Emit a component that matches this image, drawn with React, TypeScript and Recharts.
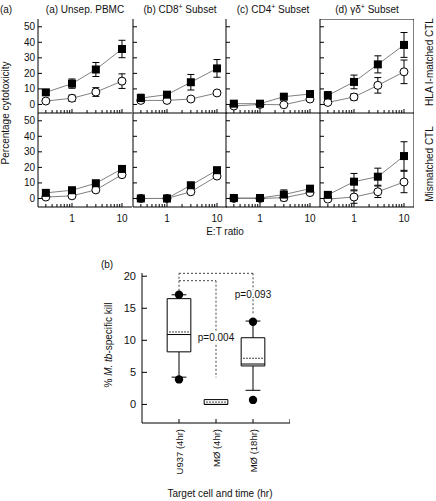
import React from 'react';
import {
  LineChart,
  Line,
  XAxis,
  YAxis,
  ErrorBar,
  ReferenceLine,
  ComposedChart,
  Scatter,
  ReferenceArea,
  ReferenceDot,
} from 'recharts';

// ---- panel (a): cytotoxicity vs E:T ratio ----
const ratios = [0.3, 1, 3, 10];
const ratioTicks = [0.3, 0.4, 0.5, 0.6, 0.7, 0.8, 0.9, 1, 2, 3, 4, 5, 6, 7, 8, 9, 10];
const ratioLabels = [1, 10];
const cytoTicks = [0, 10, 20, 30, 40, 50];

// order of subsets: Unsep. PBMC, CD8+, CD4+, gamma-delta+
const matchedSquare = [
  [7.8, 13.4, 22.5, 35.7],
  [4.1, 6.3, 14.3, 23.2],
  [0.5, 0.5, 5, 6.7],
  [5.8, 14.5, 25.8, 38.3],
];
const matchedSquareErr = [
  [1.5, 3, 4.5, 5.6],
  [2.5, 1.5, 5, 5.7],
  [1, 1, 1, 1],
  [2.5, 4.4, 5.5, 8],
];
const matchedCircle = [
  [2.2, 4, 8, 15],
  [2.6, 2.6, 3.5, 7.4],
  [-1, 0, -0.2, 3.5],
  [1.3, 4.8, 12.3, 21],
];
const matchedCircleErr = [
  [1, 2, 2.8, 4.7],
  [1, 1, 1, 1],
  [0.5, 0.5, 0.5, 1],
  [1, 2, 5, 7.6],
];
const mismatchedSquare = [
  [3.6, 5.3, 9.8, 19],
  [0, 0, 8.5, 18.2],
  [0.3, 0.3, 2.5, 6.3],
  [2.3, 10.8, 14, 27.3],
];
const mismatchedSquareErr = [
  [1, 1, 1.5, 1.5],
  [0.5, 0.5, 1, 1],
  [0.5, 0.5, 3, 1],
  [2, 5.3, 5.5, 9.2],
];
const mismatchedCircle = [
  [0.9, 1.7, 5.5, 15.3],
  [0, 0, 4.3, 14.4],
  [0, 0, 0.5, 3.8],
  [-0.4, 0.9, 4.3, 10.6],
];
const mismatchedCircleErr = [
  [0.5, 0.5, 1, 1.5],
  [0.5, 0.5, 1, 1],
  [0.5, 0.5, 2, 1],
  [0.5, 4, 3.7, 6.9],
];

// ---- panel (b): box plots ----
const boxCategories = ['U937 (4hr)', 'MØ (4hr)', 'MØ (18hr)'];
const boxQ1 = [8.2, 0, 6.0];
const boxQ3 = [16.5, 0.75, 10.4];
const boxMedian = [10.9, 0, 6.3];
const boxMean = [11.3, 0.36, 7.2];
const whiskerLow: (number | null)[] = [4.25, null, 2.2];
const whiskerHigh: (number | null)[] = [17.1, null, 13.0];
const dotLow: (number | null)[] = [3.9, null, 0.7];
const dotHigh: (number | null)[] = [17.1, null, 12.9];
const killTicks = [0, 5, 10, 15, 20];
const bracketSegments = [
  [[1, 17.1], [1, 20.45]],
  [[1, 20.45], [3, 20.45]],
  [[3, 20.45], [3, 17.9]],
  [[3, 16.4], [3, 14.0]],
  [[1, 19.3], [2, 19.3]],
  [[2, 19.3], [2, 11.4]],
  [[2, 9.3], [2, 4.2]],
];
const pValues = [
  { x: 2, y: 10.4, text: 'p=0.004' },
  { x: 3, y: 17.2, text: 'p=0.093' },
];

const FONT = "'Liberation Sans', Arial, sans-serif";
const X_DOMAIN = [0.209, 15.85];
const Y_DOMAIN = [-5.5, 55];
const PW = 94;
const PH = 94;
const AXIS_W = 36;
const panelLeft = [38, 133, 226, 320];

const XTick = (props: any) => {
  const { x, y, payload, showLabel } = props;
  const major = ratioLabels.includes(payload.value);
  return (
    <g>
      <line x1={x} x2={x} y1={y} y2={y - (major ? 4 : 3)} stroke="#000" />
      {showLabel && major && (
        <text x={x} y={y + 15} textAnchor="middle" fontSize={10} fontFamily={FONT} fill="#111">
          {payload.value}
        </text>
      )}
    </g>
  );
};

const YTick = (props: any) => {
  const { x, y, payload, showLabel } = props;
  return (
    <g>
      <line x1={x} x2={x + 4} y1={y} y2={y} stroke="#000" />
      {showLabel && (
        <text x={x - 3} y={y} dy="0.35em" textAnchor="end" fontSize={10} fontFamily={FONT} fill="#111">
          {payload.value}
        </text>
      )}
    </g>
  );
};

const squareDot = (p: any) => (
  <rect key={`s${p.index}`} x={p.cx - 4} y={p.cy - 4} width={8} height={8} fill="#000" />
);
const circleDot = (p: any) => (
  <circle key={`c${p.index}`} cx={p.cx} cy={p.cy} r={4} fill="#fff" stroke="#000" strokeWidth={1} />
);

function Panel({ idx, bottom }: { idx: number; bottom: boolean }) {
  const sq = bottom ? mismatchedSquare[idx] : matchedSquare[idx];
  const sqErr = bottom ? mismatchedSquareErr[idx] : matchedSquareErr[idx];
  const ci = bottom ? mismatchedCircle[idx] : matchedCircle[idx];
  const ciErr = bottom ? mismatchedCircleErr[idx] : matchedCircleErr[idx];
  const rows = ratios.map((x, i) => ({ x, sq: sq[i], sqErr: sqErr[i], ci: ci[i], ciErr: ciErr[i] }));
  const xH = bottom ? 22 : 2;
  const boxed = idx === 3;
  return (
    <div style={{ position: 'absolute', left: panelLeft[idx] - AXIS_W, top: bottom ? 113 : 19 }}>
      <LineChart width={AXIS_W + PW} height={PH + xH} data={rows} margin={{ top: 0, right: 0, bottom: 0, left: 0 }}>
        <XAxis
          dataKey="x"
          type="number"
          scale="log"
          domain={X_DOMAIN}
          allowDataOverflow
          ticks={ratioTicks}
          interval={0}
          height={xH}
          tickSize={0}
          tickMargin={0}
          tick={<XTick showLabel={bottom} />}
          axisLine={{ stroke: '#000' }}
        />
        <YAxis
          type="number"
          domain={Y_DOMAIN}
          allowDataOverflow
          ticks={cytoTicks}
          interval={0}
          width={AXIS_W}
          tickSize={0}
          tickMargin={0}
          tick={<YTick showLabel={idx === 0} />}
          axisLine={{ stroke: '#000' }}
        />
        {boxed && <ReferenceLine x={X_DOMAIN[1]} stroke="#000" />}
        {boxed && !bottom && <ReferenceLine y={Y_DOMAIN[1]} stroke="#000" />}
        <Line dataKey="ci" stroke="#808080" strokeWidth={1} dot={circleDot} isAnimationActive={false}>
          <ErrorBar dataKey="ciErr" direction="y" width={3.5} stroke="#000" strokeWidth={1} />
        </Line>
        <Line dataKey="sq" stroke="#808080" strokeWidth={1} dot={squareDot} isAnimationActive={false}>
          <ErrorBar dataKey="sqErr" direction="y" width={3.5} stroke="#000" strokeWidth={1} />
        </Line>
      </LineChart>
    </div>
  );
}

const BoxXTick = (props: any) => {
  const { x, y, payload } = props;
  const label = boxCategories[payload.value - 1];
  return (
    <g>
      <line x1={x} x2={x} y1={y} y2={y - 4} stroke="#000" />
      {label && (
        <text
          transform={`translate(${x},${y + 6}) rotate(-90)`}
          textAnchor="end"
          dominantBaseline="central"
          fontSize={9.5}
          fontFamily={FONT}
          fill="#111"
        >
          {label}
        </text>
      )}
    </g>
  );
};

const BoxYTick = (props: any) => {
  const { x, y, payload } = props;
  return (
    <g>
      <line x1={x} x2={x + 5} y1={y} y2={y} stroke="#000" />
      <text x={x - 6} y={y} dy="0.35em" textAnchor="end" fontSize={11} fontFamily={FONT} fill="#111">
        {payload.value}
      </text>
    </g>
  );
};

function BoxPlot() {
  const half = 0.32;
  const cap = 0.2;
  const dots = boxCategories.flatMap((_, i) =>
    [dotLow[i], dotHigh[i]].filter((v) => v !== null).map((v) => ({ x: i + 1, y: v }))
  );
  const dotted = { stroke: '#444', strokeDasharray: '2 2', strokeWidth: 1 };
  return (
    <div style={{ position: 'absolute', left: 102, top: 263 }}>
      <ComposedChart width={40 + 148} height={10 + 150 + 75} margin={{ top: 10, right: 0, bottom: 0, left: 0 }}>
        <XAxis
          dataKey="x"
          type="number"
          domain={[0, 4]}
          ticks={[1, 2, 3, 4]}
          interval={0}
          height={75}
          tickSize={0}
          tickMargin={0}
          tick={<BoxXTick />}
          axisLine={{ stroke: '#000' }}
        />
        <YAxis
          dataKey="y"
          type="number"
          domain={[-2.9, 20.5]}
          allowDataOverflow
          ticks={killTicks}
          interval={0}
          width={40}
          tickSize={0}
          tickMargin={0}
          tick={<BoxYTick />}
          axisLine={{ stroke: '#000' }}
        />
        {bracketSegments.map((s, i) => (
          <ReferenceLine
            key={`br${i}`}
            segment={[{ x: s[0][0], y: s[0][1] }, { x: s[1][0], y: s[1][1] }]}
            {...dotted}
          />
        ))}
        {boxCategories.map((_, i) => {
          const c = i + 1;
          const lo = whiskerLow[i];
          const hi = whiskerHigh[i];
          return (
            <React.Fragment key={`box${i}`}>
              {hi !== null && (
                <ReferenceLine segment={[{ x: c, y: boxQ3[i] }, { x: c, y: hi }]} stroke="#000" />
              )}
              {hi !== null && (
                <ReferenceLine segment={[{ x: c - cap, y: hi }, { x: c + cap, y: hi }]} stroke="#000" />
              )}
              {lo !== null && (
                <ReferenceLine segment={[{ x: c, y: boxQ1[i] }, { x: c, y: lo }]} stroke="#000" />
              )}
              {lo !== null && (
                <ReferenceLine segment={[{ x: c - cap, y: lo }, { x: c + cap, y: lo }]} stroke="#000" />
              )}
              <ReferenceArea
                x1={c - half}
                x2={c + half}
                y1={boxQ1[i]}
                y2={boxQ3[i]}
                fill="#fff"
                fillOpacity={1}
                stroke="#000"
                strokeWidth={1}
              />
              <ReferenceLine segment={[{ x: c - half, y: boxMedian[i] }, { x: c + half, y: boxMedian[i] }]} stroke="#000" />
              <ReferenceLine
                segment={[{ x: c - half + 0.05, y: boxMean[i] }, { x: c + half - 0.05, y: boxMean[i] }]}
                stroke="#444"
                strokeDasharray="2 1"
              />
            </React.Fragment>
          );
        })}
        <Scatter data={dots} dataKey="y" fill="#000" shape={(p: any) => <circle cx={p.cx} cy={p.cy} r={4.2} fill="#000" />} isAnimationActive={false} />
        {pValues.map((p, i) => (
          <ReferenceDot
            key={`p${i}`}
            x={p.x}
            y={p.y}
            r={0}
            stroke="none"
            label={{ value: p.text, position: 'center', fontSize: 10, fontFamily: FONT, fill: '#111' }}
          />
        ))}
      </ComposedChart>
    </div>
  );
}

const txt: React.CSSProperties = { position: 'absolute', fontFamily: FONT, fontSize: 10, color: '#111', whiteSpace: 'nowrap', lineHeight: 1 };
const sup: React.CSSProperties = { fontSize: 7, verticalAlign: 'super', lineHeight: 0 };

function Centered({ x, y, children, rotate, style }: any) {
  return (
    <div
      style={{
        ...txt,
        left: x,
        top: y,
        transform: `translate(-50%, -50%)${rotate ? ` rotate(${rotate}deg)` : ''}`,
        ...style,
      }}
    >
      {children}
    </div>
  );
}

export default function App() {
  const titles = [
    <>(a) Unsep. PBMC</>,
    <>(b) CD8<span style={sup}>+</span> Subset</>,
    <>(c) CD4<span style={sup}>+</span> Subset</>,
    <>(d) γδ<span style={sup}>+</span> Subset</>,
  ];
  return (
    <div style={{ position: 'absolute', left: 0, top: 0, width: 436, height: 501, background: '#fff', overflow: 'hidden' }}>
      <Centered x={6} y={10}>(a)</Centered>
      {titles.map((t, i) => (
        <Centered key={`t${i}`} x={panelLeft[i] + PW / 2} y={10}>
          {t}
        </Centered>
      ))}
      {[0, 1, 2, 3].map((i) => (
        <Panel key={`m${i}`} idx={i} bottom={false} />
      ))}
      {[0, 1, 2, 3].map((i) => (
        <Panel key={`mm${i}`} idx={i} bottom={true} />
      ))}
      <Centered x={6} y={113} rotate={-90}>Percentage cytotoxicity</Centered>
      <Centered x={430} y={62} rotate={-90}>HLA I-matched CTL</Centered>
      <Centered x={430} y={164} rotate={-90}>Mismatched CTL</Centered>
      <Centered x={225} y={232}>E:T ratio</Centered>

      <Centered x={107} y={265}>(b)</Centered>
      <BoxPlot />
      <Centered x={109} y={345} rotate={-90}>
        % <i>M. tb</i>-specific kill
      </Centered>
      <Centered x={220} y={494}>Target cell and time (hr)</Centered>
    </div>
  );
}
